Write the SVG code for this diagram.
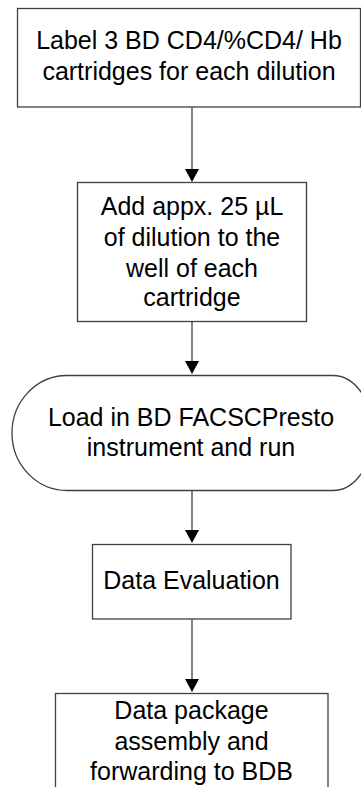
<svg xmlns="http://www.w3.org/2000/svg" width="361" height="787" viewBox="0 0 361 787">
<style>
.box{fill:#fff;stroke:#404040;stroke-width:1.3}
.t{font-family:"Liberation Sans",Arial,sans-serif;font-size:25px;fill:#000;text-anchor:middle}
.ln{stroke:#404040;stroke-width:1.3;fill:none}
.ah{fill:#000}
</style>
<rect width="361" height="787" fill="#fff"/>
<g id="n1">
<rect class="box" x="17.5" y="8.5" width="343" height="98.5"/>
<text class="t" x="189" y="49">Label 3 BD CD4/%CD4/ Hb</text>
<text class="t" x="189" y="80">cartridges for each dilution</text>
</g>
<g id="n2">
<rect class="box" x="77.5" y="182.5" width="229" height="139"/>
<text class="t" x="192" y="215">Add appx. 25 µL</text>
<text class="t" x="192" y="246">of dilution to the</text>
<text class="t" x="192" y="277">well of each</text>
<text class="t" x="192" y="306">cartridge</text>
</g>
<g id="n3">
<path class="box" d="M67 375.5 H333 A40 57.5 0 0 1 333 490.5 H67 A55 57.5 0 0 1 67 375.5 Z"/>
<text class="t" x="191" y="426">Load in BD FACSCPresto</text>
<text class="t" x="191" y="456">instrument and run</text>
</g>
<g id="n4">
<rect class="box" x="92.5" y="544.5" width="198.5" height="74.5"/>
<text class="t" x="191.5" y="589">Data Evaluation</text>
</g>
<g id="n5">
<rect class="box" x="55.5" y="693.5" width="272.5" height="110"/>
<text class="t" x="191.5" y="719">Data package</text>
<text class="t" x="191.5" y="750">assembly and</text>
<text class="t" x="191.5" y="780">forwarding to BDB</text>
</g>
<g id="connectors">
<line class="ln" x1="192" y1="107" x2="192" y2="170"/>
<polygon class="ah" points="185,169 199,169 192,182"/>
<line class="ln" x1="192" y1="322" x2="192" y2="362"/>
<polygon class="ah" points="185,361 199,361 192,374"/>
<line class="ln" x1="192" y1="490.5" x2="192" y2="531"/>
<polygon class="ah" points="185,530 199,530 192,543"/>
<line class="ln" x1="192" y1="619" x2="192" y2="680"/>
<polygon class="ah" points="185,679 199,679 192,692"/>
</g>
</svg>
